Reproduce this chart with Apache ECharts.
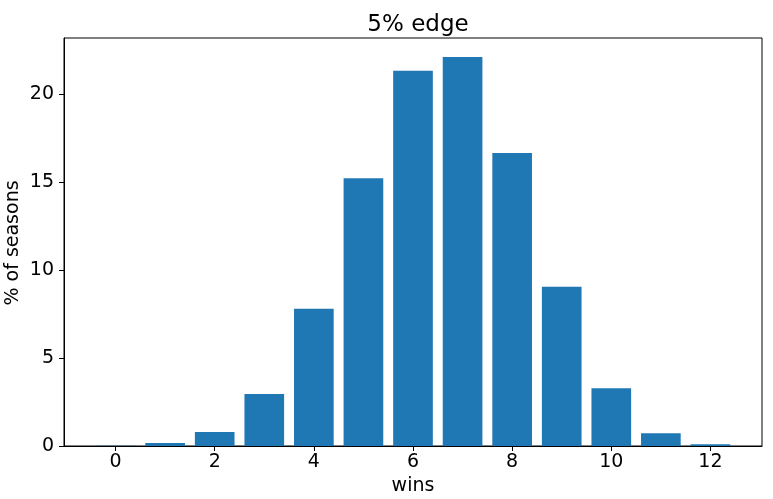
<!DOCTYPE html>
<html>
<head>
<meta charset="utf-8">
<script src="https://cdn.jsdelivr.net/npm/echarts@6/dist/echarts.min.js"></script>
<style>
  html, body { margin: 0; padding: 0; background: #fff; }
  #panel { width: 773px; height: 499px; }
</style>
</head>
<body>
<div id="panel"></div>
<script>
// wins 0..12 and the share of seasons (%) for each
var wins = [0, 1, 2, 3, 4, 5, 6, 7, 8, 9, 10, 11, 12];
var pctSeasons = [0.01, 0.17, 0.8, 2.95, 7.8, 15.23, 21.34, 22.12, 16.66, 9.06, 3.29, 0.72, 0.1];
var xTicks = [0, 2, 4, 6, 8, 10, 12];
var yTicks = [0, 5, 10, 15, 20];

var font = 'DejaVu Sans';
var xMin = -1.04, xMax = 13.04;
var plotW = 773 - 64 - 11;
var barPx = 0.8 * plotW / (xMax - xMin);

var myChart = echarts.init(document.getElementById('panel'));
myChart.setOption({
    backgroundColor: '#ffffff',
    animation: false,
    title: {
        text: '5% edge',
        left: 413, top: 9, textAlign: 'center',
        textStyle: { fontFamily: font, fontSize: 23, fontWeight: 'normal', color: '#000' }
    },
    // y axis title placed by hand, the axis name kept getting pushed left
    graphic: [{
        type: 'text',
        x: 13, y: 243,
        rotation: Math.PI / 2,
        style: {
            text: '% of seasons', font: '19px "DejaVu Sans"', fill: '#000',
            align: 'center', verticalAlign: 'middle'
        }
    }],
    grid: {
        left: 64, right: 11, top: 38, bottom: 53,
        outerBoundsMode: 'none', containLabel: false,
        show: true, borderColor: '#000', borderWidth: 1, backgroundColor: 'transparent'
    },
    xAxis: {
        type: 'value', min: xMin, max: xMax,
        name: 'wins', nameLocation: 'middle', nameGap: 31,
        nameTextStyle: { fontFamily: font, fontSize: 19, color: '#000' },
        splitLine: { show: false },
        axisLine: { show: true, onZero: false, lineStyle: { color: '#000', width: 1 } },
        axisTick: { show: true, length: 5, customValues: xTicks, lineStyle: { color: '#000' } },
        axisLabel: { customValues: xTicks, fontFamily: font, fontSize: 19, color: '#000', margin: 7 }
    },
    yAxis: {
        type: 'value', min: 0, max: 23.2,
        splitLine: { show: false },
        axisLine: { show: true, onZero: false, lineStyle: { color: '#000', width: 1 } },
        axisTick: { show: true, length: 5, customValues: yTicks, lineStyle: { color: '#000' } },
        axisLabel: { customValues: yTicks, fontFamily: font, fontSize: 19, color: '#000', margin: 10 }
    },
    series: [{
        type: 'bar',
        barWidth: barPx,
        itemStyle: { color: '#1f77b4' },
        data: wins.map(function (w, i) { return [w, pctSeasons[i]]; })
    }]
});
</script>
</body>
</html>
